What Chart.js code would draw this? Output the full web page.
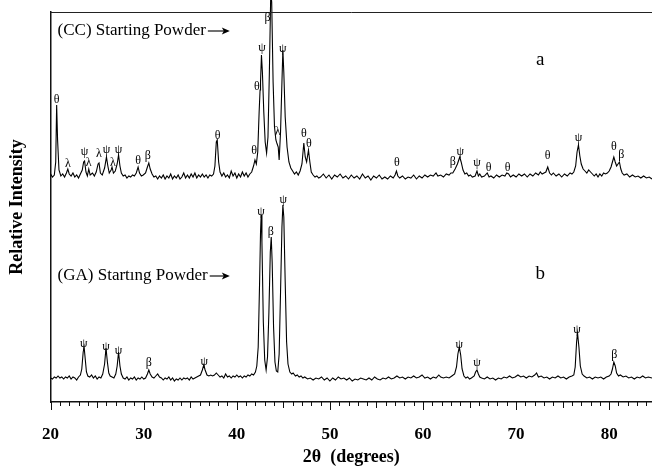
<!DOCTYPE html>
<html><head><meta charset="utf-8">
<script src="https://cdn.jsdelivr.net/npm/chart.js@4"></script>
<style>html,body{margin:0;padding:0;background:#fff}#wrap{width:652px;height:468px}</style>
</head><body><div id="wrap"><canvas id="c" width="652" height="468"></canvas></div>
<script>
// 2θ (degrees), relative intensity (arbitrary units)
const traceA = [[20.0,228],[20.2,225],[20.4,227],[20.55,240],[20.65,297],[20.75,262],[20.9,232],[21.1,226],[21.3,228],[21.5,225],[21.7,229],[21.85,233],[22.0,228],[22.2,226],[22.4,229],[22.6,225],[22.8,227],[23.0,224],[23.2,228],[23.4,232],[23.55,240],[23.65,241],[23.8,230],[23.95,226],[24.1,233],[24.25,227],[24.5,229],[24.7,226],[24.9,230],[25.1,238],[25.2,239],[25.35,229],[25.55,227],[25.8,234],[26.0,245],[26.15,236],[26.3,229],[26.5,232],[26.6,235],[26.75,229],[26.95,231],[27.15,238],[27.3,247],[27.45,236],[27.6,229],[27.8,226],[28.0,227],[28.2,224],[28.4,226],[28.6,225],[28.8,227],[29.0,226],[29.2,229],[29.4,235],[29.55,229],[29.75,226],[29.95,227],[30.2,229],[30.4,235],[30.55,239],[30.7,233],[30.9,228],[31.1,225],[31.3,226],[31.5,223],[31.7,226],[31.9,224],[32.1,227],[32.3,223],[32.5,226],[32.7,224],[32.9,228],[33.1,223],[33.3,226],[33.5,224],[33.7,227],[33.9,223],[34.1,225],[34.3,229],[34.5,224],[34.7,227],[34.9,224],[35.1,228],[35.3,225],[35.5,229],[35.7,224],[35.9,227],[36.1,225],[36.3,228],[36.5,225],[36.7,227],[36.9,224],[37.1,227],[37.3,226],[37.5,228],[37.65,236],[37.8,260],[37.9,262],[38.05,240],[38.2,230],[38.4,226],[38.6,229],[38.8,225],[39.0,227],[39.2,224],[39.4,231],[39.6,226],[39.8,229],[40.0,224],[40.2,228],[40.4,225],[40.6,230],[40.8,226],[41.0,229],[41.2,225],[41.4,228],[41.6,230],[41.8,236],[41.95,242],[42.1,238],[42.25,250],[42.4,290],[42.5,312],[42.55,320],[42.65,347],[42.75,330],[42.9,290],[43.05,260],[43.2,249],[43.35,265],[43.5,330],[43.65,410],[43.75,400],[43.9,320],[44.05,275],[44.2,262],[44.3,259],[44.45,255],[44.55,242],[44.7,270],[44.85,320],[44.95,352],[45.05,330],[45.2,285],[45.4,255],[45.6,240],[45.8,234],[46.0,231],[46.2,228],[46.4,230],[46.6,227],[46.8,231],[47.0,238],[47.2,259],[47.35,245],[47.5,240],[47.7,252],[47.85,240],[48.0,230],[48.2,227],[48.4,225],[48.6,226],[48.8,224],[49.0,225],[49.3,228],[49.6,224],[49.9,227],[50.2,223],[50.5,227],[50.8,225],[51.1,228],[51.4,224],[51.7,226],[52.0,223],[52.3,227],[52.6,224],[52.9,226],[53.2,223],[53.5,228],[53.8,224],[54.1,226],[54.4,222],[54.7,226],[55.0,224],[55.3,227],[55.6,223],[55.9,225],[56.2,223],[56.5,226],[56.8,224],[57.0,227],[57.15,231],[57.3,226],[57.5,224],[57.8,226],[58.1,223],[58.4,225],[58.7,224],[59.0,227],[59.3,223],[59.6,226],[59.9,224],[60.2,227],[60.5,225],[60.8,227],[61.1,226],[61.4,229],[61.6,226],[61.9,227],[62.2,225],[62.5,228],[62.8,227],[63.0,229],[63.2,229],[63.45,233],[63.7,238],[63.95,245],[64.1,240],[64.3,232],[64.5,228],[64.7,229],[64.9,226],[65.1,227],[65.3,225],[65.6,226],[65.8,231],[65.95,226],[66.1,228],[66.3,225],[66.6,226],[66.9,229],[67.1,225],[67.3,226],[67.6,224],[67.9,227],[68.2,225],[68.5,227],[68.8,226],[69.0,229],[69.2,228],[69.4,225],[69.7,227],[70.0,225],[70.3,228],[70.6,226],[70.9,228],[71.2,225],[71.5,228],[71.8,226],[72.1,229],[72.4,227],[72.6,230],[72.8,228],[73.0,229],[73.2,230],[73.4,235],[73.6,229],[73.8,227],[74.0,229],[74.3,226],[74.6,228],[74.9,225],[75.2,228],[75.5,226],[75.8,229],[76.0,228],[76.2,230],[76.4,236],[76.55,250],[76.7,257],[76.85,246],[77.0,238],[77.2,233],[77.4,231],[77.6,229],[77.8,232],[78.0,230],[78.2,228],[78.4,226],[78.6,228],[78.8,225],[79.0,228],[79.2,226],[79.4,229],[79.6,228],[79.8,229],[80.0,231],[80.2,235],[80.35,240],[80.5,245],[80.65,240],[80.8,236],[80.95,238],[81.1,240],[81.25,233],[81.4,229],[81.6,227],[81.9,228],[82.2,225],[82.5,227],[82.8,225],[83.1,226],[83.4,224],[83.7,226],[84.0,224],[84.3,225],[84.6,223]];

const traceB = [[20.0,24],[20.2,23],[20.4,25],[20.6,24],[20.8,26],[21.0,24],[21.2,25],[21.4,23],[21.6,25],[21.8,24],[22.0,26],[22.2,23],[22.4,25],[22.6,24],[22.8,22],[23.0,25],[23.2,27],[23.35,33],[23.5,50],[23.6,55],[23.7,45],[23.85,30],[24.0,26],[24.2,25],[24.4,27],[24.6,24],[24.8,26],[25.0,23],[25.2,25],[25.4,24],[25.6,28],[25.8,38],[25.95,54],[26.1,40],[26.25,29],[26.4,26],[26.6,25],[26.8,24],[27.0,28],[27.15,36],[27.3,50],[27.45,36],[27.6,28],[27.8,24],[28.0,23],[28.2,25],[28.4,22],[28.6,24],[28.8,23],[29.0,25],[29.2,22],[29.4,24],[29.6,23],[29.8,25],[30.0,23],[30.2,24],[30.4,28],[30.55,32],[30.7,28],[30.9,25],[31.1,24],[31.3,26],[31.5,28],[31.7,25],[31.9,24],[32.1,22],[32.3,24],[32.5,23],[32.7,25],[32.9,22],[33.1,24],[33.3,21],[33.5,23],[33.7,22],[33.9,24],[34.1,22],[34.3,24],[34.5,23],[34.7,24],[34.9,22],[35.1,25],[35.3,23],[35.5,24],[35.7,25],[35.9,26],[36.1,27],[36.3,32],[36.45,37],[36.6,32],[36.8,27],[37.0,26],[37.2,27],[37.4,26],[37.6,27],[37.8,29],[38.0,27],[38.2,25],[38.4,26],[38.6,24],[38.8,28],[39.0,25],[39.2,26],[39.4,24],[39.6,26],[39.8,25],[40.0,27],[40.2,25],[40.4,26],[40.6,24],[40.8,26],[41.0,25],[41.2,27],[41.4,26],[41.6,28],[41.8,27],[42.0,30],[42.15,36],[42.3,55],[42.45,120],[42.55,170],[42.62,187],[42.7,160],[42.85,80],[43.0,42],[43.15,32],[43.3,45],[43.45,90],[43.6,150],[43.7,165],[43.8,140],[43.95,75],[44.1,40],[44.25,31],[44.4,30],[44.55,48],[44.7,110],[44.85,175],[44.95,197],[45.05,185],[45.2,120],[45.35,60],[45.5,38],[45.7,30],[45.9,28],[46.05,29],[46.3,26],[46.5,27],[46.7,25],[46.9,26],[47.1,24],[47.3,25],[47.6,23],[47.9,24],[48.2,22],[48.5,24],[48.8,23],[49.1,25],[49.4,22],[49.7,24],[50.0,21],[50.3,24],[50.6,22],[50.9,25],[51.2,23],[51.5,24],[51.8,22],[52.1,24],[52.4,21],[52.7,23],[53.0,22],[53.3,24],[53.6,23],[53.9,22],[54.2,24],[54.5,22],[54.8,25],[55.1,23],[55.4,22],[55.7,24],[56.0,23],[56.3,25],[56.6,23],[56.9,24],[57.2,26],[57.5,24],[57.8,25],[58.1,23],[58.4,25],[58.7,24],[59.0,26],[59.3,24],[59.6,25],[59.9,27],[60.2,24],[60.5,25],[60.8,23],[61.1,25],[61.4,24],[61.7,27],[61.9,25],[62.2,24],[62.5,25],[62.8,24],[63.1,26],[63.4,28],[63.6,35],[63.75,48],[63.9,55],[64.05,47],[64.2,33],[64.4,26],[64.6,24],[64.8,25],[65.0,23],[65.2,24],[65.5,26],[65.65,30],[65.8,32],[65.95,28],[66.1,25],[66.3,24],[66.6,23],[66.9,25],[67.2,23],[67.5,24],[67.8,22],[68.1,24],[68.4,23],[68.7,25],[69.0,24],[69.3,26],[69.6,24],[69.9,25],[70.2,27],[70.5,25],[70.8,26],[71.1,24],[71.4,26],[71.7,25],[72.0,27],[72.2,29],[72.4,25],[72.7,26],[73.0,24],[73.3,25],[73.6,23],[73.9,25],[74.2,24],[74.5,26],[74.8,24],[75.1,25],[75.4,23],[75.7,25],[76.0,26],[76.2,27],[76.35,35],[76.5,60],[76.6,69],[76.75,55],[76.9,36],[77.1,28],[77.3,26],[77.6,24],[77.9,25],[78.2,23],[78.5,25],[78.8,24],[79.1,25],[79.4,23],[79.7,25],[80.0,26],[80.2,28],[80.35,33],[80.5,40],[80.65,36],[80.8,29],[81.0,26],[81.2,27],[81.5,25],[81.8,26],[82.1,24],[82.4,25],[82.7,23],[83.0,25],[83.3,24],[83.6,26],[83.9,24],[84.2,25],[84.6,24]];

const xTickLabels = [20,30,40,50,60,70,80];

// phase labels: [symbol, 2θ, intensity]
const phaseLabelsA = [['θ',20.65,302],['λ',21.85,238],['ψ',23.65,250],['λ',24.1,239],['λ',25.2,248],['ψ',26.0,252],['λ',26.7,239],['ψ',27.3,252],['θ',29.4,241],['β',30.45,246],['θ',37.95,266],['θ',41.85,251],['θ',42.15,315],['ψ',42.7,354],['β',43.3,384],['λ',44.4,270],['ψ',44.95,353],['θ',47.2,268],['θ',47.75,258],['θ',57.2,239],['β',63.2,240],['ψ',64.0,250],['ψ',65.8,239],['θ',67.05,234],['θ',69.1,234],['θ',73.4,246],['ψ',76.7,264],['θ',80.5,255],['β',81.3,247]];
const phaseLabelsB = [['ψ',23.55,58],['ψ',25.95,55],['ψ',27.3,51],['β',30.55,39],['ψ',36.5,40],['ψ',42.6,190],['β',43.65,170],['ψ',45.0,202],['ψ',63.9,57],['ψ',65.8,39],['ψ',76.55,72],['β',80.55,47]];

// sample captions: [text, 2θ (left edge), intensity, arrow end 2θ]
const captions = [['(CC) Starting Powder',20.75,371,39.25],['(GA) Startıng Powder',20.75,126,39.25]];
const traceLetters = [['a',72.6,342],['b',72.6,128]];

const SERIF = '"Liberation Serif", "Times New Roman", serif';

const annotate = {
  id: 'annotate',
  afterDraw(chart) {
    const {ctx, chartArea, scales: {x, y}} = chart;
    ctx.save();
    // top frame line
    ctx.strokeStyle = '#222'; ctx.lineWidth = 1;
    ctx.beginPath(); ctx.moveTo(chartArea.left, chartArea.top + 0.5); ctx.lineTo(chartArea.right, chartArea.top + 0.5); ctx.stroke();
    // x ticks: every degree, longer every 5 and 10
    ctx.strokeStyle = '#111'; ctx.lineWidth = 1;
    for (let v = 20; v <= 84; v++) {
      const px = Math.round(x.getPixelForValue(v)) + 0.5;
      const len = v % 10 === 0 ? 8 : (v % 5 === 0 ? 6 : 4);
      ctx.beginPath(); ctx.moveTo(px, chartArea.bottom); ctx.lineTo(px, chartArea.bottom + len); ctx.stroke();
    }
    // phase labels
    ctx.fillStyle = '#000';
    ctx.textAlign = 'center'; ctx.textBaseline = 'middle';
    ctx.font = '12px ' + SERIF;
    for (const [s, a, b] of phaseLabelsA.concat(phaseLabelsB)) {
      ctx.fillText(s, x.getPixelForValue(a), y.getPixelForValue(b));
    }
    // captions with arrows
    ctx.font = '17px ' + SERIF;
    ctx.textAlign = 'left';
    for (const [t, a, b, e] of captions) {
      const px = x.getPixelForValue(a), py = y.getPixelForValue(b);
      ctx.fillText(t, px, py);
      const w = ctx.measureText(t).width;
      const x0 = px + w + 2, x1 = x.getPixelForValue(e);
      ctx.beginPath(); ctx.lineWidth = 1.2; ctx.moveTo(x0, py); ctx.lineTo(x1 - 5, py); ctx.stroke();
      ctx.beginPath(); ctx.moveTo(x1, py); ctx.lineTo(x1 - 8, py - 3.5); ctx.lineTo(x1 - 6, py); ctx.lineTo(x1 - 8, py + 3.5); ctx.closePath(); ctx.fill();
    }
    ctx.font = '19px ' + SERIF;
    ctx.textAlign = 'center';
    for (const [t, a, b] of traceLetters) {
      ctx.fillText(t, x.getPixelForValue(a), y.getPixelForValue(b));
    }
    ctx.restore();
  }
};

const toXY = arr => arr.map(p => ({x: p[0], y: p[1]}));

new Chart(document.getElementById('c'), {
  type: 'line',
  data: {
    datasets: [
      {label: 'CC', data: toXY(traceA), borderColor: '#000', borderWidth: 1.1, pointRadius: 0, tension: 0, clip: {left: 0, top: 12, right: 0, bottom: 0}},
      {label: 'GA', data: toXY(traceB), borderColor: '#000', borderWidth: 1.1, pointRadius: 0, tension: 0}
    ]
  },
  options: {
    responsive: false,
    animation: false,
    devicePixelRatio: 1,
    layout: {padding: {top: 12, right: 0, bottom: 0, left: 0}},
    plugins: {legend: {display: false}, tooltip: {enabled: false}},
    scales: {
      x: {
        type: 'linear', min: 20, max: 84.6,
        grid: {display: false, drawTicks: false},
        border: {display: true, color: '#111', width: 1.5},
        afterBuildTicks: s => { s.ticks = xTickLabels.map(v => ({value: v})); },
        afterFit: s => { s.height = 66; },
        ticks: {color: '#000', padding: 22, maxRotation: 0, autoSkip: false,
          font: {family: SERIF, size: 17, weight: 'bold'}},
        title: {display: true, text: '2θ  (degrees)', color: '#000',
          font: {family: SERIF, size: 18, weight: 'bold'}, padding: {top: 4, bottom: 0}}
      },
      y: {
        min: 0, max: 390,
        grid: {display: false, drawTicks: false},
        border: {display: true, color: '#111', width: 1.5},
        ticks: {display: false},
        title: {display: true, text: 'Relative Intensity', color: '#000',
          font: {family: SERIF, size: 18, weight: 'bold'}, padding: {top: 7, bottom: 22}}
      }
    }
  },
  plugins: [annotate]
});
</script>
</body></html>
